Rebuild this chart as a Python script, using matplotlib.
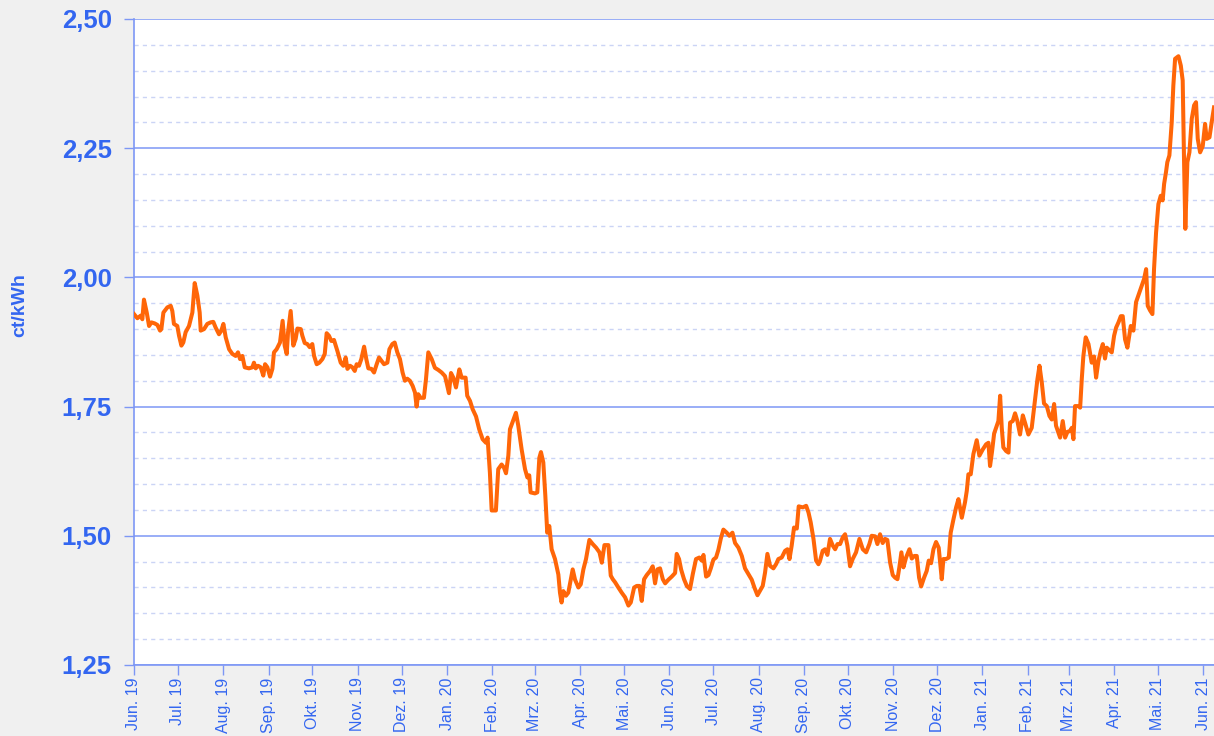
#%%
import numpy as np
import pandas as pd
import matplotlib
matplotlib.use("Agg")
import matplotlib.pyplot as plt
from matplotlib.ticker import MultipleLocator, FixedLocator

#%% data (days since 1 Jun 2019, price in ct/kWh)

start = pd.Timestamp("2019-06-01")

days = [
    0, 2.3, 4.6, 5.7, 6.8, 8.7, 10.3, 11.9, 14.1, 16.0, 17.8, 18.7, 20.1, 22.8, 25.1, 26.2,
    27.3, 29.6, 30.8, 32.4, 33.7, 35.3, 37.6, 39.9, 41.5, 43.3, 44.9, 45.6, 47.9, 50.1, 52.4,
    54.2, 55.8, 58.1, 59.7, 61.1, 62.7, 65.0, 67.2, 69.5, 71.1, 72.5, 74.1, 75.7, 78.6, 80.9,
    82.0, 83.2, 84.8, 86.6, 88.4, 89.6, 91.2, 93.0, 94.6, 95.7, 97.5, 99.8, 101.6, 103.0,
    104.4, 105.3, 107.1, 108.9, 110.5, 111.7, 114.0, 115.1, 116.7, 118.5, 120.1, 121.9,
    123.1, 124.9, 126.7, 128.8, 130.4, 131.7, 133.3, 134.9, 136.7, 139.0, 141.3, 143.1,
    144.7, 145.9, 147.7, 149.3, 150.9, 152.2, 153.8, 155.4, 157.3, 158.8, 160.2, 162.3,
    164.1, 165.9, 167.5, 169.1, 170.9, 173.2, 174.6, 176.6, 178.2, 180.0,
    181.8, 183.6, 185.2, 186.8, 188.6, 190.5, 192.1, 193.2, 194.3, 195.9, 198.2, 199.6,
    201.2, 203.5, 205.7, 208.0, 210.3, 212.6, 213.7, 215.3, 216.7, 218.3, 220.1, 222.4,
    224.0, 226.7, 227.8, 229.7, 231.5, 233.8, 236.0, 238.3, 240.6, 241.7, 243.3, 244.5,
    247.4, 249.0, 251.3, 252.9, 254.3, 255.9, 257.0, 259.3, 261.1, 262.7, 265.0, 267.3,
    268.9, 270.2, 271.1, 274.1, 275.7, 277.1, 278.2, 279.8, 281.2, 282.5, 283.9, 285.5,
    287.8, 290.1, 291.2, 292.3, 293.5, 295.3, 296.9,
    299.9, 301.5, 303.8, 305.4, 307.2, 309.0, 311.3, 313.6, 315.9, 318.2, 319.8, 321.6,
    324.3, 325.9, 327.3, 328.9, 331.1, 333.4, 335.7, 338.0, 339.6, 341.9, 343.7, 345.5,
    347.1, 348.7, 350.5, 352.8, 354.6, 356.2, 357.8, 359.6, 361.5, 363.1, 365.3, 367.6,
    369.9, 371.0, 372.6, 374.0, 376.0, 377.9, 380.1, 382.0, 384.2, 386.5, 388.1, 389.3,
    391.1, 392.7, 394.3, 396.1, 397.9, 399.5, 401.1, 402.9, 405.2, 407.0, 409.1, 410.9,
    413.2, 415.5, 417.7, 420.0, 422.3, 424.1, 426.2, 428.0, 429.8, 431.4, 433.0, 434.8,
    437.1, 438.9, 440.5, 442.8, 445.1, 446.7, 448.1, 449.6, 451.2, 453.1, 454.4, 457.2,
    459.5, 461.1, 462.6, 464.5, 466.3, 467.9,
    469.0, 470.8, 472.4, 474.0, 475.8, 477.7, 479.3, 480.9, 482.7, 484.5, 486.1, 487.7,
    489.5, 491.3, 493.6, 495.9, 498.2, 500.5, 502.7, 504.3, 506.6, 508.2, 510.0, 511.8,
    513.4, 515.0, 516.9, 518.7, 520.3, 521.9, 523.2, 524.6, 526.0, 527.8, 530.1, 531.7,
    533.5, 535.1, 536.7, 538.1, 540.1, 541.9, 543.3, 544.9, 546.5, 548.3, 550.1, 552.2,
    553.3, 555.1, 557.0, 558.3, 560.2, 562.0, 563.6, 565.9, 568.1,
    569.3, 570.4, 572.0, 573.8, 576.1, 577.9, 580.2, 582.5, 584.1, 585.2, 586.6, 588.0,
    589.8, 590.9, 592.1, 593.2, 594.3, 596.2, 597.8, 598.9, 600.7, 602.3, 603.9, 605.7,
    607.6, 609.2, 611.4, 613.7, 616.0, 617.6, 619.0, 620.6, 622.1, 624.0, 625.8, 627.4,
    629.0, 630.3, 631.9, 633.1, 634.9, 636.5, 638.1, 639.9, 641.1, 642.2, 643.3, 645.6,
    646.8, 647.9, 649.0, 650.6, 652.5, 654.7, 656.3, 657.7, 659.3, 660.9, 662.3, 663.8,
    665.0, 667.3, 668.4, 670.0, 671.4, 673.0, 674.6, 675.9, 677.5, 679.1, 681.4,
    683.2, 685.0, 686.6, 688.9, 690.5, 691.9, 693.0, 694.6, 696.2, 697.3, 698.7, 700.3,
    701.9, 703.2, 704.2, 705.5, 706.4, 707.8, 709.4, 710.5, 711.7, 714.0, 715.6, 716.9,
    717.8, 718.7, 720.1, 721.5, 723.1, 724.7, 726.0, 727.2, 728.8, 730.6, 732.2, 733.3,
    735.2, 736.7, 738.3,
]

price = [
    1.929, 1.921, 1.926, 1.919, 1.957, 1.932, 1.906, 1.913, 1.911, 1.908, 1.897, 1.900,
    1.932, 1.942, 1.945, 1.935, 1.910, 1.906, 1.887, 1.868, 1.874, 1.894, 1.906, 1.932,
    1.989, 1.965, 1.932, 1.897, 1.900, 1.910, 1.913, 1.914, 1.903, 1.890, 1.897, 1.910,
    1.884, 1.861, 1.852, 1.848, 1.855, 1.842, 1.848, 1.826, 1.824, 1.826, 1.835, 1.824,
    1.829, 1.826, 1.810, 1.832, 1.826, 1.808, 1.823, 1.855, 1.861, 1.874, 1.916, 1.868,
    1.852, 1.894, 1.935, 1.868, 1.881, 1.901, 1.900, 1.887, 1.873, 1.871, 1.865, 1.871,
    1.848, 1.832, 1.835, 1.842, 1.852, 1.892, 1.887, 1.877, 1.879, 1.858, 1.835, 1.829,
    1.845, 1.823, 1.829, 1.826, 1.819, 1.832, 1.829, 1.842, 1.866, 1.842, 1.824, 1.823,
    1.816, 1.832, 1.845, 1.839, 1.832, 1.835, 1.861, 1.871, 1.874, 1.855,
    1.842, 1.816, 1.800, 1.804, 1.800, 1.790, 1.777, 1.750, 1.774, 1.767, 1.767, 1.803,
    1.855, 1.842, 1.825, 1.821, 1.816, 1.809, 1.796, 1.776, 1.815, 1.806, 1.787, 1.822,
    1.806, 1.806, 1.771, 1.761, 1.745, 1.731, 1.706, 1.687, 1.680, 1.690, 1.622, 1.549,
    1.549, 1.629, 1.638, 1.632, 1.621, 1.655, 1.706, 1.724, 1.738, 1.713, 1.667, 1.629,
    1.613, 1.617, 1.584, 1.582, 1.584, 1.651, 1.662, 1.642, 1.577, 1.506, 1.519, 1.474,
    1.455, 1.425, 1.390, 1.371, 1.393, 1.384, 1.390,
    1.435, 1.415, 1.400, 1.406, 1.435, 1.455, 1.492, 1.484, 1.477, 1.468, 1.448, 1.482,
    1.482, 1.423, 1.416, 1.410, 1.400, 1.390, 1.381, 1.365, 1.371, 1.400, 1.403, 1.403,
    1.374, 1.416, 1.424, 1.432, 1.441, 1.408, 1.435, 1.437, 1.416, 1.408, 1.415, 1.421,
    1.428, 1.465, 1.455, 1.435, 1.416, 1.403, 1.397, 1.426, 1.455, 1.458, 1.452, 1.463,
    1.421, 1.424, 1.437, 1.454, 1.458, 1.473, 1.494, 1.512, 1.506, 1.500, 1.506, 1.486,
    1.477, 1.461, 1.437, 1.426, 1.415, 1.400, 1.385, 1.394, 1.403, 1.429, 1.465, 1.442,
    1.437, 1.445, 1.455, 1.458, 1.471, 1.474, 1.455, 1.481, 1.516, 1.514, 1.557, 1.555,
    1.558, 1.545, 1.526, 1.494, 1.452, 1.445,
    1.452, 1.471, 1.474, 1.463, 1.494, 1.481, 1.474, 1.484, 1.484, 1.497, 1.503, 1.481,
    1.441, 1.455, 1.468, 1.494, 1.474, 1.468, 1.484, 1.500, 1.499, 1.484, 1.503, 1.486,
    1.494, 1.492, 1.448, 1.424, 1.419, 1.416, 1.439, 1.468, 1.439, 1.458, 1.474, 1.456,
    1.461, 1.461, 1.419, 1.402, 1.419, 1.432, 1.452, 1.447, 1.474, 1.488, 1.477, 1.416,
    1.455, 1.455, 1.458, 1.506, 1.532, 1.555, 1.571, 1.535, 1.565,
    1.587, 1.619, 1.619, 1.658, 1.685, 1.655, 1.667, 1.677, 1.680, 1.635, 1.664, 1.698,
    1.713, 1.722, 1.771, 1.709, 1.671, 1.664, 1.661, 1.719, 1.722, 1.737, 1.722, 1.696,
    1.733, 1.718, 1.696, 1.709, 1.764, 1.803, 1.829, 1.796, 1.756, 1.751, 1.732, 1.725,
    1.755, 1.713, 1.700, 1.690, 1.722, 1.690, 1.701, 1.703, 1.709, 1.687, 1.751, 1.751,
    1.748, 1.803, 1.848, 1.884, 1.871, 1.835, 1.847, 1.806, 1.838, 1.858, 1.871, 1.843,
    1.864, 1.858, 1.855, 1.887, 1.903, 1.913, 1.925, 1.925, 1.880, 1.864, 1.906,
    1.897, 1.952, 1.965, 1.984, 1.997, 2.016, 1.945, 1.936, 1.929, 2.016, 2.087, 2.142,
    2.158, 2.149, 2.181, 2.204, 2.223, 2.236, 2.300, 2.371, 2.423, 2.428, 2.410, 2.381,
    2.229, 2.094, 2.223, 2.242, 2.307, 2.333, 2.339, 2.268, 2.242, 2.254, 2.297, 2.268,
    2.271, 2.300, 2.329,
]

month_names = ["Jan.", "Feb.", "Mrz.", "Apr.", "Mai.", "Jun.",
               "Jul.", "Aug.", "Sep.", "Okt.", "Nov.", "Dez."]

#%% plot

dates = start + pd.to_timedelta(np.array(days), unit="D")
months = pd.date_range("2019-06-01", "2021-06-01", freq="MS")
month_labels = [f"{month_names[m.month - 1]} {m.year % 100:02d}" for m in months]

blue_text = "#3366f0"
grid_major = "#7d97f5"
grid_minor = "#cbd4f5"

plt.rcParams["font.family"] = ["Liberation Sans", "DejaVu Sans"]

fig = plt.figure(figsize=(12.14, 7.36), dpi=100, facecolor="#f0f0f0")
ax = fig.add_axes([134 / 1214, 1 - 665 / 736, 1080 / 1214, 646 / 736])
ax.set_facecolor("white")

ax.plot(dates, price, color="#ff6608", lw=2.9, solid_joinstyle="round", zorder=3)

ax.set_ylim(1.25, 2.50)
ax.set_xlim(start, start + pd.Timedelta(days=738.3))

ax.yaxis.set_minor_locator(MultipleLocator(0.05))
yt = np.arange(1.25, 2.51, 0.25)
ax.set_yticks(yt)
ax.set_yticklabels([f"{v:.2f}".replace(".", ",") for v in yt],
                   fontsize=18.5, fontweight="bold", color=blue_text)

ax.xaxis.set_major_locator(FixedLocator(matplotlib.dates.date2num(months)))
ax.set_xticklabels(month_labels, rotation=90, fontsize=11.5, color=blue_text)

ax.grid(axis="y", which="major", color=grid_major, lw=1.1, zorder=1)
ax.grid(axis="y", which="minor", color=grid_minor, lw=1.0, ls=(0, (3, 3)), zorder=1)
ax.tick_params(axis="y", which="minor", length=0)
ax.tick_params(axis="both", which="major", length=7, width=1, color=grid_major)
ax.tick_params(axis="y", which="major", pad=9)
ax.tick_params(axis="x", which="major", pad=2)

for side in ["top", "right"]:
    ax.spines[side].set_visible(False)
for side in ["left", "bottom"]:
    ax.spines[side].set_color(grid_major)
    ax.spines[side].set_linewidth(1.2)

ax.set_ylabel("ct/kWh", fontsize=14, fontweight="bold", color=blue_text)
ax.yaxis.set_label_coords(-0.098, 0.557)

fig.savefig("out.png", dpi=100, facecolor=fig.get_facecolor())
